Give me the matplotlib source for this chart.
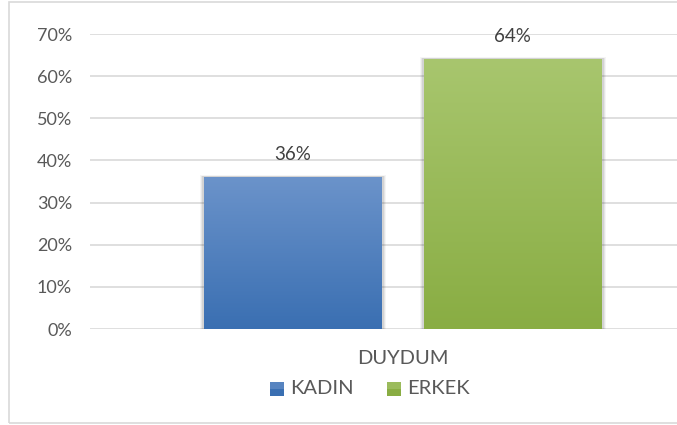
import numpy as np
import matplotlib
matplotlib.use("Agg")
import matplotlib.pyplot as plt
from matplotlib.patches import Rectangle
from matplotlib.colors import LinearSegmentedColormap

categories = ["DUYDUM"]
series_names = ["KADIN", "ERKEK"]
kadin = [36]
erkek = [64]
yticks = [0, 10, 20, 30, 40, 50, 60, 70]
ytick_labels = ["0%", "10%", "20%", "30%", "40%", "50%", "60%", "70%"]

W, H = 677, 425
fig = plt.figure(figsize=(W / 100, H / 100), dpi=100)
plt.rcParams['font.family'] = ['Lato', 'DejaVu Sans']
text_color = "#595959"

# figure border
border = Rectangle((9 / W, 1 - 423 / H), (W + 10 - 9) / W, (423 - 2) / H,
                   transform=fig.transFigure, fill=False, edgecolor="#D9D9D9",
                   linewidth=1.2, zorder=0)
fig.add_artist(border)

# axes: pixel coordinates
ax_left, ax_right = 90, 677
ax_top, ax_bottom = 34, 329
ax = fig.add_axes([ax_left / W, 1 - ax_bottom / H, (ax_right - ax_left) / W, (ax_bottom - ax_top) / H])
ax.set_ylim(0, 70)
center_px = 402.5
ax.set_xlim(ax_left - center_px, ax_right - center_px)

for s in ax.spines.values():
    s.set_visible(False)
ax.set_yticks(yticks)
ax.set_yticklabels(ytick_labels, fontsize=13, color=text_color)
ax.tick_params(axis='y', length=0, pad=13)
ax.set_xticks([])
ax.grid(axis='y', color="#D9D9D9", linewidth=1.2)
ax.set_axisbelow(True)

bar_w = 178
offsets = [-110, 110]
grads = [("#6B93CA", "#3A6FB2"), ("#A8C66E", "#89AD43")]
series = [kadin, erkek]

for si, (vals, off, (ctop, cbot)) in enumerate(zip(series, offsets, grads)):
    for ci, v in enumerate(vals):
        x0 = ci + off - bar_w / 2
        for k, a in [(4, 0.04), (3, 0.06), (2, 0.08)]:
            sh = Rectangle((x0 - k, 0), bar_w + 2 * k, v + k * 0.12,
                           facecolor="#000000", alpha=a, edgecolor="none", zorder=2)
            ax.add_patch(sh)
        rect = Rectangle((x0, 0), bar_w, v, facecolor="none", edgecolor="none", zorder=3)
        ax.add_patch(rect)
        cmap = LinearSegmentedColormap.from_list("g", [cbot, ctop])
        grad = np.linspace(0, 1, 256).reshape(-1, 1)
        im = ax.imshow(grad, cmap=cmap, aspect='auto', origin='lower',
                       extent=(x0, x0 + bar_w, 0, v), zorder=3)
        im.set_clip_path(rect)
        ax.text(ci + off, v + 3.3, f"{v}%", ha='center', va='bottom',
                fontsize=13.5, color="#404040", zorder=5)

ax.set_xlim(ax_left - center_px, ax_right - center_px)
ax.set_ylim(0, 70)

# category label
fig.text(center_px / W, 1 - 358 / H, categories[0], ha='center', va='center',
         fontsize=14.5, color=text_color)

# legend
leg_items = [(270, series_names[0], grads[0]), (387, series_names[1], grads[1])]
for x, name, (ctop, cbot) in leg_items:
    fig.add_artist(Rectangle((x / W, 1 - 396 / H), 14 / W, 14 / H,
                             transform=fig.transFigure, facecolor=cbot, edgecolor="none"))
    fig.add_artist(Rectangle((x / W, 1 - 389 / H), 14 / W, 7 / H,
                             transform=fig.transFigure, facecolor=ctop, edgecolor="none", alpha=0.6))
    fig.text((x + 20) / W, 1 - 389 / H, name, ha='left', va='center',
             fontsize=14.5, color=text_color)

fig.savefig("out.png", dpi=100)
